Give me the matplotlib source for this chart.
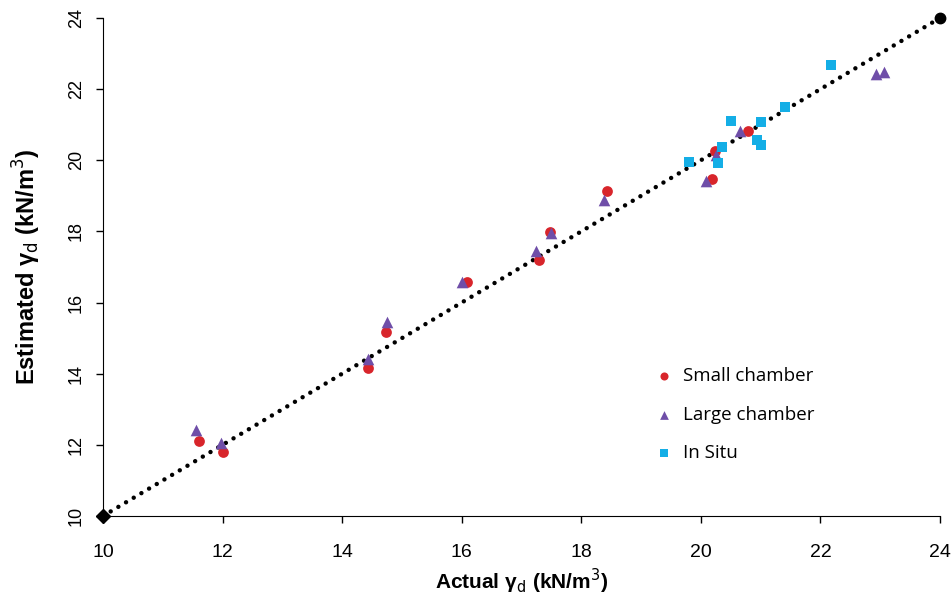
import matplotlib.pyplot as plt

# actual vs estimated dry unit weight (kN/m3)
small_x = [11.60, 12.00, 14.43, 14.73, 16.09, 17.29, 17.47, 18.43, 20.18, 20.23, 20.79]
small_y = [12.11, 11.79, 14.15, 15.18, 16.58, 17.20, 17.99, 19.14, 19.47, 20.27, 20.83]

large_x = [11.56, 11.97, 14.44, 14.75, 16.00, 17.24, 17.49, 18.38, 20.09, 20.26, 20.65, 22.93, 23.07]
large_y = [12.43, 12.06, 14.40, 15.44, 16.57, 17.45, 17.96, 18.88, 19.42, 20.15, 20.83, 22.42, 22.47]

situ_x = [19.80, 20.28, 20.36, 20.50, 20.94, 21.00, 21.01, 21.40, 22.17]
situ_y = [19.96, 19.91, 20.38, 21.11, 20.57, 20.43, 21.08, 21.49, 22.68]

line_x = [10, 24]
line_y = [10, 24]
ticks = [10, 12, 14, 16, 18, 20, 22, 24]

plt.rcParams['font.family'] = ['Liberation Sans', 'DejaVu Sans']

fig = plt.figure(figsize=(9.51, 6.0), dpi=100)
ax = fig.add_axes([0.1083, 0.14, 0.8801, 0.83])

# 1:1 line with end markers
ax.plot(line_x, line_y, color='black', lw=3.2, dashes=(0.01, 2.0),
        dash_capstyle='round', zorder=2)
ax.plot(line_x[:1], line_y[:1], marker='D', ms=7, color='black', clip_on=False, zorder=4)
ax.plot(line_x[1:], line_y[1:], marker='o', ms=7.5, color='black', clip_on=False, zorder=4)

ax.scatter(small_x, small_y, marker='o', s=60, color='#D8252B', lw=0,
           label='Small chamber', zorder=3)
ax.scatter(large_x, large_y, marker='^', s=70, color='#6F4EA8', lw=0,
           label='Large chamber', zorder=3)
ax.scatter(situ_x, situ_y, marker='s', s=55, color='#14AEE6', lw=0,
           label='In Situ', zorder=3)

ax.set_xlim(10, 24)
ax.set_ylim(10, 24)
ax.set_xticks(ticks)
ax.set_yticks(ticks)
ax.spines['top'].set_visible(False)
ax.spines['right'].set_visible(False)
ax.tick_params(direction='out', length=5, width=1)
ax.tick_params(axis='x', labelsize=14, pad=15)
ax.tick_params(axis='y', labelsize=13, pad=8)
for lab in ax.get_yticklabels():
    lab.set_rotation(90)
    lab.set_va('center')

ax.set_xlabel('Actual γ$_\\mathrm{d}$ (kN/m$^\\mathrm{3}$)', fontsize=15, fontweight='bold',
              labelpad=4)
ax.set_ylabel('Estimated γ$_\\mathrm{d}$ (kN/m$^\\mathrm{3}$)', fontsize=17, fontweight='bold',
              labelpad=18)

ax.legend(loc='upper left', bbox_to_anchor=(0.628, 0.333), frameon=False,
          labelspacing=1.1, handletextpad=0.0, markerscale=0.75,
          prop={'family': ['Open Sans', 'DejaVu Sans'], 'size': 13.5})

fig.savefig('out.png', dpi=100)
